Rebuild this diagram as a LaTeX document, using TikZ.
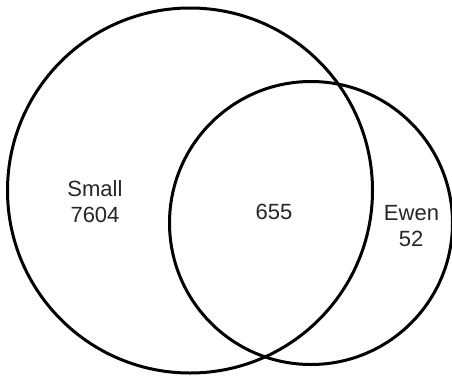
\documentclass[tikz,border=0pt]{standalone}
\usepackage{fontspec}
\setmainfont{Liberation Sans}
\begin{document}
\begin{tikzpicture}[x=1pt,y=-1pt,
  ring/.style={draw=black,line width=3pt},
  lbl/.style={anchor=base,inner sep=0pt,text=black!85,font=\fontsize{22}{26}\selectfont}]
\useasboundingbox (0,0) rectangle (452,375);
\fill[white] (0,0) rectangle (452,375);
\node[ring,circle,minimum size=365pt,inner sep=0pt] (big) at (190,190.5) {};
\node[ring,circle,minimum size=283pt,inner sep=0pt] (smallc) at (311,223) {};
\node[lbl] (s1) at (95,196) {Small};
\node[lbl] (s2) at (95,222.5) {7604};
\node[lbl] (mid) at (274,219.5) {655};
\node[lbl] (e1) at (411.5,220) {Ewen};
\node[lbl] (e2) at (411,246) {52};
\end{tikzpicture}
\end{document}
